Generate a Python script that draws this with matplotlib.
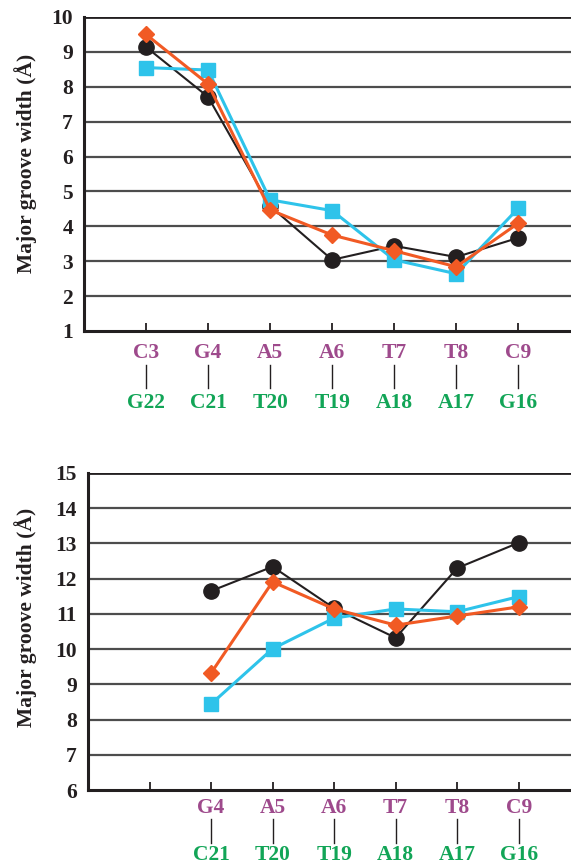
import matplotlib
matplotlib.use("Agg")
import matplotlib.pyplot as plt

# ---------------- data ----------------
top_strand1 = ["C3", "G4", "A5", "A6", "T7", "T8", "C9"]
top_strand2 = ["G22", "C21", "T20", "T19", "A18", "A17", "G16"]
top_black = [9.14, 7.71, 4.58, 3.04, 3.44, 3.12, 3.67]
top_orange = [9.50, 8.08, 4.47, 3.75, 3.30, 2.84, 4.09]
top_cyan = [8.55, 8.48, 4.76, 4.45, 3.04, 2.64, 4.52]

bot_strand1 = ["G4", "A5", "A6", "T7", "T8", "C9"]
bot_strand2 = ["C21", "T20", "T19", "A18", "A17", "G16"]
bot_black = [11.65, 12.34, 11.16, 10.32, 12.30, 13.02]
bot_orange = [9.32, 11.91, 11.14, 10.68, 10.94, 11.20]
bot_cyan = [8.44, 10.01, 10.88, 11.14, 11.06, 11.49]

top_yticks = list(range(1, 11))
bot_yticks = list(range(6, 16))

# ---------------- style ----------------
FONT = "Liberation Serif"
C_BLACK = "#231F20"
C_ORANGE = "#F15A24"
C_CYAN = "#2EC3EA"
C_PURPLE = "#9E4A8C"
C_GREEN = "#12A557"
GRID = "#4D4D4D"
FS = 15.5

plt.rcParams["font.family"] = FONT
plt.rcParams["font.weight"] = "bold"

fig = plt.figure(figsize=(5.71, 8.67), dpi=100)

def panel(rect, xs_first, s1, s2, black, orange, cyan, yticks, tickpos,
          lab1_y, line_y, lab2_y, ylab_xy):
    ax = fig.add_axes(rect)
    xs = list(range(xs_first, xs_first + len(s1)))
    ax.set_xlim(0, 7.85)
    ax.set_ylim(yticks[0], yticks[-1])
    for y in yticks[1:]:
        ax.axhline(y, color=GRID if y != yticks[-1] else C_BLACK,
                   lw=1.6 if y != yticks[-1] else 2.0, zorder=1)
    ax.plot(xs, black, color=C_BLACK, lw=1.5, marker="o", ms=11,
            mec=C_BLACK, mfc=C_BLACK, zorder=3, clip_on=False)
    ax.plot(xs, cyan, color=C_CYAN, lw=2.2, marker="s", ms=10,
            mec=C_CYAN, mfc=C_CYAN, zorder=4, clip_on=False)
    ax.plot(xs, orange, color=C_ORANGE, lw=2.2, marker="D", ms=8.5,
            mec=C_ORANGE, mfc=C_ORANGE, zorder=5, clip_on=False)
    for side in ("top", "right"):
        ax.spines[side].set_visible(False)
    for side in ("left", "bottom"):
        ax.spines[side].set_linewidth(2.2)
        ax.spines[side].set_color(C_BLACK)
    ax.set_xticks(tickpos)
    ax.set_xticklabels([])
    ax.tick_params(axis="x", direction="in", length=6, width=1.3,
                   color=C_BLACK)
    ax.set_yticks(yticks)
    ax.set_yticklabels([str(v) for v in yticks], fontsize=FS,
                       fontweight="bold", color=C_BLACK)
    ax.tick_params(axis="y", length=0, pad=8)
    ax.set_ylabel("Major groove width (Å)", fontsize=FS, fontweight="bold",
                  color=C_BLACK)
    ax.yaxis.set_label_coords(*ylab_xy)
    tr = ax.get_xaxis_transform()
    for x, a, b in zip(xs, s1, s2):
        ax.text(x, lab1_y, a, transform=tr, ha="center", va="center",
                fontsize=FS, fontweight="bold", color=C_PURPLE)
        ax.plot([x, x], line_y, transform=tr, color=C_BLACK, lw=1.0,
                clip_on=False)
        ax.text(x, lab2_y, b, transform=tr, ha="center", va="center",
                fontsize=FS, fontweight="bold", color=C_GREEN)
    return ax

# top panel: axes height 314 px
h1 = 314
panel([84 / 571, 1 - 331 / 867, 1 - 84 / 571, h1 / 867], 1,
      top_strand1, top_strand2, top_black, top_orange, top_cyan,
      top_yticks, [1, 2, 3, 4, 5, 6, 7],
      -22 / h1, [-34 / h1, -57 / h1], -72 / h1, (-0.097, 0.535))

# bottom panel: axes height 317 px
h2 = 317
panel([88 / 571, 1 - 790 / 867, 1 - 88 / 571, h2 / 867], 2,
      bot_strand1, bot_strand2, bot_black, bot_orange, bot_cyan,
      bot_yticks, [1, 2, 3, 4, 5, 6, 7],
      -18 / h2, [-29 / h2, -53 / h2], -65 / h2, (-0.106, 0.543))

fig.savefig("out.png", dpi=100)
